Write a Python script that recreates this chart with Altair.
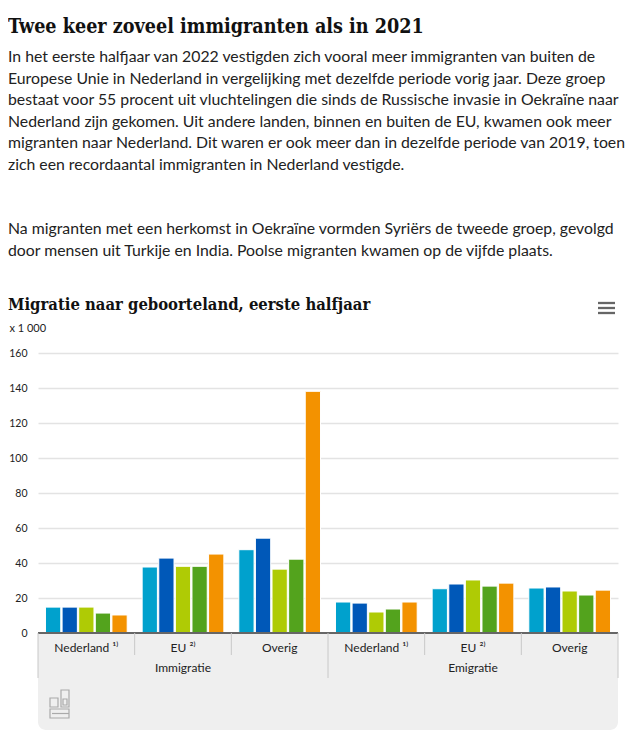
import altair as alt
import pandas as pd

# ---- data ----
flows = ["Immigratie", "Immigratie", "Immigratie", "Emigratie", "Emigratie", "Emigratie"]
origins = ["Nederland \u00b9\u207e", "EU \u00b2\u207e", "Overig", "Nederland \u00b9\u207e", "EU \u00b2\u207e", "Overig"]
years = ["2018", "2019", "2020", "2021", "2022"]
values = {
    "2018": [14.8, 37.7, 47.6, 17.7, 25.3, 25.7],
    "2019": [14.8, 42.8, 54.2, 17.1, 28.0, 26.3],
    "2020": [14.8, 38.1, 36.5, 12.0, 30.3, 24.0],
    "2021": [11.4, 38.1, 42.2, 13.7, 26.8, 21.7],
    "2022": [10.3, 45.1, 138.1, 17.7, 28.5, 24.5],
}
colors = ["#00a1cd", "#0058b8", "#afcb05", "#53a31d", "#f39200"]
y_ticks = [0, 20, 40, 60, 80, 100, 120, 140, 160]

header_title = "Twee keer zoveel immigranten als in 2021"
para1 = [
    "In het eerste halfjaar van 2022 vestigden zich vooral meer immigranten van buiten de",
    "Europese Unie in Nederland in vergelijking met dezelfde periode vorig jaar. Deze groep",
    "bestaat voor 55 procent uit vluchtelingen die sinds de Russische invasie in Oekraïne naar",
    "Nederland zijn gekomen. Uit andere landen, binnen en buiten de EU, kwamen ook meer",
    "migranten naar Nederland. Dit waren er ook meer dan in dezelfde periode van 2019, toen",
    "zich een recordaantal immigranten in Nederland vestigde.",
]
para2 = [
    "Na migranten met een herkomst in Oekraïne vormden Syriërs de tweede groep, gevolgd",
    "door mensen uit Turkije en India. Poolse migranten kwamen op de vijfde plaats.",
]
chart_title = "Migratie naar geboorteland, eerste halfjaar"
unit_label = "x 1 000"

groups = [f"{f} - {o}" for f, o in zip(flows, origins)]
rows = []
for yr in years:
    for g, v in zip(groups, values[yr]):
        rows.append({"group": g, "year": yr, "value": v})
df = pd.DataFrame(rows)

W, H = 580, 280
L = 30
BODY_FONT = "Lato"
HEAD_FONT = "DejaVu Serif Condensed"
TXT = "#222222"

one = pd.DataFrame({"k": [0]})

xscale = alt.Scale(domain=groups, paddingInner=0, paddingOuter=0)

def gx(**kw):
    return alt.X("group:N", scale=xscale, sort=groups, axis=None, **kw)

box = alt.Chart(one).mark_rect(
    color="#efefef", cornerRadiusBottomLeft=8, cornerRadiusBottomRight=8
).encode(x=alt.value(0), x2=alt.value(W), y=alt.value(H), y2=alt.value(H + 97))

bars = alt.Chart(df).mark_bar(stroke="white", strokeWidth=1).encode(
    x=gx(),
    xOffset=alt.XOffset("year:N", scale=alt.Scale(domain=years, paddingInner=0.08, paddingOuter=0.45)),
    y=alt.Y(
        "value:Q",
        scale=alt.Scale(domain=[0, 160], nice=False),
        axis=alt.Axis(
            values=y_ticks, grid=True, gridColor="#e3e3e3", gridWidth=1.6,
            domain=False, ticks=False, labelPadding=11, labelFontSize=10.5,
            labelColor=TXT, labelFont=BODY_FONT,
            title=unit_label, titleAngle=0, titleX=-L + 1, titleY=-25,
            titleAlign="left", titleBaseline="middle", titleFontWeight="normal",
            titleFontSize=11, titleFont=BODY_FONT, titleColor=TXT,
        ),
    ),
    color=alt.Color("year:N", scale=alt.Scale(domain=years, range=colors), legend=None),
)

axis_line = alt.Chart(one).mark_rule(color="#666666", strokeWidth=2).encode(
    x=alt.value(0), x2=alt.value(W), y=alt.value(H)
)

short_sep = alt.Chart(pd.DataFrame({"group": [groups[1], groups[2], groups[4], groups[5]]})).mark_rule(
    color="#c8c8c8", strokeWidth=1
).encode(x=gx(bandPosition=0), y=alt.value(H), y2=alt.value(H + 22))

long_sep = alt.Chart(pd.DataFrame({"group": [groups[0], groups[3]]})).mark_rule(
    color="#c8c8c8", strokeWidth=1
).encode(x=gx(bandPosition=0), y=alt.value(H), y2=alt.value(H + 45))

right_sep = alt.Chart(pd.DataFrame({"group": [groups[5]]})).mark_rule(
    color="#c8c8c8", strokeWidth=1
).encode(x=gx(bandPosition=1), y=alt.value(H), y2=alt.value(H + 45))

origin_labels = alt.Chart(pd.DataFrame({"group": groups, "label": origins})).mark_text(
    font=BODY_FONT, fontSize=12, color=TXT, baseline="middle", align="center"
).encode(x=gx(bandPosition=0.5), y=alt.value(H + 15), text="label:N")

flow_labels = alt.Chart(pd.DataFrame({"group": [groups[1], groups[4]], "label": [flows[0], flows[3]]})).mark_text(
    font=BODY_FONT, fontSize=12, color=TXT, baseline="middle", align="center"
).encode(x=gx(bandPosition=0.5), y=alt.value(H + 35), text="label:N")

title_mark = alt.Chart(pd.DataFrame({"t": [header_title]})).mark_text(
    font=HEAD_FONT, fontWeight="bold", fontSize=19.6, color="#111111", align="left", baseline="alphabetic"
).encode(x=alt.value(-L), y=alt.value(-320), text="t:N")

p1 = alt.Chart(one).mark_text(
    font=BODY_FONT, fontSize=15.8, color=TXT, align="left", baseline="alphabetic", lineHeight=21.5
).encode(x=alt.value(-L), y=alt.value(-291), text=alt.value(para1))

p2 = alt.Chart(one).mark_text(
    font=BODY_FONT, fontSize=15.8, color=TXT, align="left", baseline="alphabetic", lineHeight=21.5
).encode(x=alt.value(-L), y=alt.value(-119), text=alt.value(para2))

ctitle = alt.Chart(pd.DataFrame({"t": [chart_title]})).mark_text(
    font=HEAD_FONT, fontWeight="bold", fontSize=16.5, color="#111111", align="left", baseline="alphabetic"
).encode(x=alt.value(-L), y=alt.value(-43), text="t:N")

menu_layers = [
    alt.Chart(one).mark_rule(color="#666666", strokeWidth=2.3).encode(
        x=alt.value(W - 20), x2=alt.value(W - 3), y=alt.value(yy)
    )
    for yy in (-50, -45, -40)
]

# cbs logo (outline)
logo_style = dict(fill=None, stroke="#aaaaaa", strokeWidth=1.2, filled=False)
logo_rects = [
    (12, 345, 20, 354),
    (23, 337, 31, 354),
    (25, 346, 29, 352),
    (12, 356, 31, 365),
]
logo_layers = [
    alt.Chart(one).mark_rect(**logo_style).encode(
        x=alt.value(a), x2=alt.value(c), y=alt.value(b), y2=alt.value(d)
    )
    for a, b, c, d in logo_rects
]
logo_mid = alt.Chart(one).mark_rule(color="#aaaaaa", strokeWidth=1.2).encode(
    x=alt.value(14), x2=alt.value(31), y=alt.value(360.5)
)

chart = alt.layer(
    box, bars, axis_line, short_sep, long_sep, right_sep, origin_labels, flow_labels,
    title_mark, p1, p2, ctitle, *menu_layers, *logo_layers, logo_mid,
).properties(
    width=W, height=H,
    autosize=alt.AutoSizeParams(type="none"),
    padding={"left": L, "top": 345, "right": 9, "bottom": 100},
).configure_view(stroke=None)

chart.save("out.html", embed_options={"renderer": "svg", "actions": False})
